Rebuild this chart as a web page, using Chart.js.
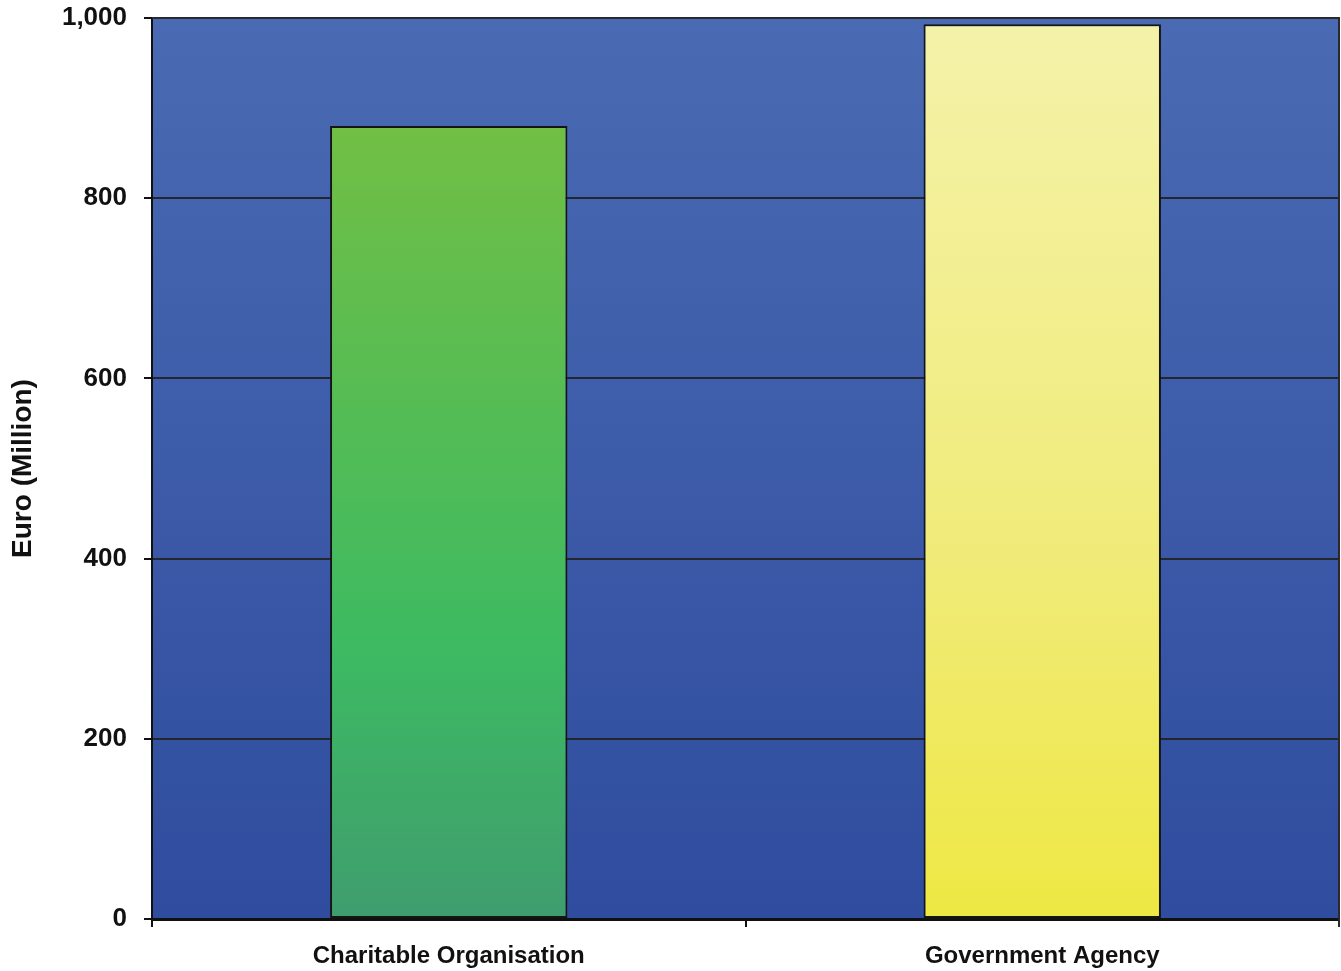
<!DOCTYPE html>
<html>
<head>
<meta charset="utf-8">
<script src="https://cdn.jsdelivr.net/npm/chart.js@4/dist/chart.umd.min.js"></script>
<style>
  html, body { margin: 0; padding: 0; background: #ffffff; }
  #wrap { width: 1341px; height: 971px; }
</style>
</head>
<body>
<div id="wrap"><canvas id="c" width="1341" height="971"></canvas></div>
<script>
// Funding by source, in millions of euro
const categories = ['Charitable Organisation', 'Government Agency'];
const values = [880, 993];
const yTicks = [0, 200, 400, 600, 800, 1000];

// Vertical colour ramps for each bar (top, middle, bottom)
const barRamps = [
  ['#71bf44', '#3dba62', '#3f9d6e'],
  ['#f4f2a9', '#f0eb78', '#eee843']
];

function barFill(ctx) {
  const chart = ctx.chart;
  const area = chart.chartArea;
  if (!area) return barRamps[ctx.dataIndex][0];
  const y = chart.scales.y;
  const top = y.getPixelForValue(values[ctx.dataIndex]);
  const bottom = y.getPixelForValue(0);
  const g = chart.ctx.createLinearGradient(0, top, 0, bottom);
  const r = barRamps[ctx.dataIndex];
  g.addColorStop(0, r[0]);
  g.addColorStop(ctx.dataIndex === 0 ? 0.66 : 0.6, r[1]);
  g.addColorStop(1, r[2]);
  return g;
}

// Blue gradient behind the plot, plus the frame on its top and right
const plotFrame = {
  id: 'plotFrame',
  beforeDraw(chart) {
    const { ctx, chartArea: a } = chart;
    const g = ctx.createLinearGradient(0, a.top, 0, a.bottom);
    g.addColorStop(0, '#4a6ab3');
    g.addColorStop(1, '#2f4c9e');
    ctx.save();
    ctx.fillStyle = g;
    ctx.fillRect(a.left, a.top, a.right - a.left, a.bottom - a.top);
    ctx.restore();
  },
  afterDraw(chart) {
    const { ctx, chartArea: a } = chart;
    ctx.save();
    ctx.strokeStyle = '#2a2a2a';
    ctx.lineWidth = 2;
    ctx.beginPath();
    ctx.moveTo(a.left, a.top);
    ctx.lineTo(a.right, a.top);
    ctx.lineTo(a.right, a.bottom + 8);
    ctx.stroke();
    ctx.restore();
  }
};

const labelFont = { family: 'Liberation Sans, Arial, sans-serif', size: 24, weight: 'bold' };
const tickFont = { family: 'Liberation Sans, Arial, sans-serif', size: 26, weight: 'bold' };

new Chart(document.getElementById('c'), {
  type: 'bar',
  data: {
    labels: categories,
    datasets: [{
      data: values,
      backgroundColor: barFill,
      borderColor: '#151515',
      borderWidth: 2,
      borderSkipped: false,
      barPercentage: 0.4,
      categoryPercentage: 1.0
    }]
  },
  options: {
    responsive: false,
    animation: false,
    layout: { padding: { top: 18, right: 2, left: 0, bottom: 0 } },
    plugins: {
      legend: { display: false },
      tooltip: { enabled: false }
    },
    scales: {
      x: {
        offset: true,
        grid: {
          offset: true,
          drawOnChartArea: false,
          drawTicks: true,
          tickLength: 8,
          color: '#111111',
          lineWidth: 2
        },
        border: { display: true, color: '#111111', width: 3 },
        ticks: { color: '#111111', font: labelFont, padding: 15, maxRotation: 0 },
        afterFit(s) { s.height = 52; s.paddingLeft = 0; s.paddingRight = 0; }
      },
      y: {
        min: 0,
        max: 1000,
        afterBuildTicks(s) { s.ticks = yTicks.map(v => ({ value: v })); },
        grid: {
          color: '#23262f',
          lineWidth: 2,
          drawTicks: true,
          tickLength: 8,
          tickColor: '#111111'
        },
        border: { display: true, color: '#111111', width: 2 },
        ticks: {
          color: '#111111',
          font: tickFont,
          padding: 17,
          callback: v => v.toLocaleString('en-US')
        },
        title: {
          display: true,
          text: 'Euro (Million)',
          color: '#111111',
          font: { family: 'Liberation Sans, Arial, sans-serif', size: 28, weight: 'bold' },
          padding: { top: 6, bottom: 0 }
        },
        afterFit(s) { s.width = 152; s.paddingTop = 0; s.paddingBottom = 0; }
      }
    }
  },
  plugins: [plotFrame]
});
</script>
</body>
</html>
